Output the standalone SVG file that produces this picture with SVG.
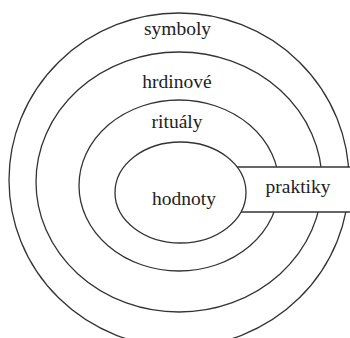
<svg xmlns="http://www.w3.org/2000/svg" width="350" height="338" viewBox="0 0 350 338">
<style>
.ring{fill:#fff;stroke:#333;stroke-width:1.3}
.edge{stroke:#333;stroke-width:1.3}
.lbl{font-family:'Liberation Serif','Times New Roman',serif;font-size:19.5px;fill:#222;text-anchor:middle}
</style>
<rect width="350" height="338" fill="#fff"/>
<g id="symboly">
<ellipse class="ring" cx="179" cy="180" rx="170" ry="167"/>
<text class="lbl" x="177.5" y="35">symboly</text>
</g>
<g id="hrdinove">
<ellipse class="ring" cx="179" cy="182" rx="143" ry="130"/>
<text class="lbl" x="177" y="88">hrdinové</text>
</g>
<g id="ritualy">
<ellipse class="ring" cx="179" cy="185.5" rx="100" ry="85.5"/>
<text class="lbl" x="177" y="128">rituály</text>
</g>
<g id="praktiky">
<rect x="230" y="167" width="130" height="45" fill="#fff"/>
<line class="edge" x1="230" y1="167" x2="360" y2="167"/>
<line class="edge" x1="230" y1="212" x2="360" y2="212"/>
<text class="lbl" x="298" y="193">praktiky</text>
</g>
<g id="hodnoty">
<ellipse class="ring" cx="180.5" cy="192.5" rx="65.5" ry="50.5"/>
<text class="lbl" x="184" y="205">hodnoty</text>
</g>
<g id="connectors"/>
</svg>
